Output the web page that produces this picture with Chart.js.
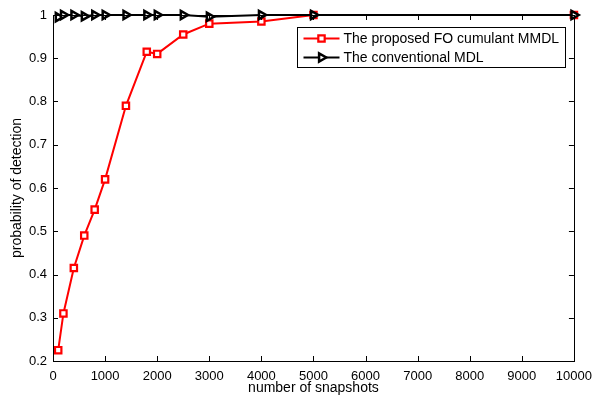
<!DOCTYPE html>
<html>
<head>
<meta charset="utf-8">
<script src="https://cdn.jsdelivr.net/npm/chart.js@4.4.0/dist/chart.umd.min.js"></script>
<style>
  html, body { margin: 0; padding: 0; background: #fff; }
  canvas { display: block; }
</style>
</head>
<body>
<canvas id="myChart" width="595" height="397"></canvas>
<script>
// data
const snapshots = [100, 200, 400, 600, 800, 1000, 1400, 1800, 2000, 2500, 3000, 4000, 5000, 10000];
const mmdlPd = [0.225, 0.31, 0.415, 0.49, 0.55, 0.62, 0.79, 0.915, 0.91, 0.955, 0.98, 0.985, 1, 1];
const mdlPd = [0.995, 1, 1, 0.997, 1, 1, 1, 1, 1, 1, 0.996, 1, 1, 1];
const seriesNames = ['The proposed FO cumulant MMDL', 'The conventional MDL'];
const xTitle = 'number of snapshots';
const yTitle = 'probability of detection';

const FONT = 'Liberation Sans, Arial, Helvetica, sans-serif';

function pts(xs, ys) {
    return xs.map((x, i) => ({x: x, y: ys[i]}));
}

// matlab style box with inward ticks
const boxTicks = {
    id: 'boxTicks',
    afterDraw(chart) {
        const ctx = chart.ctx;
        const a = chart.chartArea;
        const xs = chart.scales.x, ys = chart.scales.y;
        const len = 5;
        ctx.save();
        ctx.strokeStyle = '#000';
        ctx.lineWidth = 1;
        ctx.beginPath();
        xs.ticks.forEach(t => {
            const p = Math.round(xs.getPixelForValue(t.value)) + 0.5;
            ctx.moveTo(p, a.bottom); ctx.lineTo(p, a.bottom - len);
            ctx.moveTo(p, a.top); ctx.lineTo(p, a.top + len);
        });
        ys.ticks.forEach(t => {
            const p = Math.round(ys.getPixelForValue(t.value)) + 0.5;
            ctx.moveTo(a.left, p); ctx.lineTo(a.left + len, p);
            ctx.moveTo(a.right, p); ctx.lineTo(a.right - len, p);
        });
        ctx.stroke();
        ctx.strokeRect(Math.round(a.left) + 0.5, Math.round(a.top) + 0.5,
            Math.round(a.right - a.left), Math.round(a.bottom - a.top));
        ctx.restore();
    }
};

// legend inside the axes, top right
const insideLegend = {
    id: 'insideLegend',
    afterDraw(chart) {
        const ctx = chart.ctx;
        const a = chart.chartArea;
        ctx.save();
        ctx.font = '14px ' + FONT;
        const w = Math.round(Math.max(...seriesNames.map(s => ctx.measureText(s).width)) + 52);
        const h = 40;
        const x0 = Math.round(a.right - 9 - w) + 0.5;
        const y0 = Math.round(a.top + 12) + 0.5;
        ctx.fillStyle = '#fff';
        ctx.fillRect(x0, y0, w, h);
        ctx.strokeStyle = '#000';
        ctx.lineWidth = 1;
        ctx.strokeRect(x0, y0, w, h);
        chart.data.datasets.forEach((ds, i) => {
            const cy = y0 + 11 + i * 19;
            ctx.strokeStyle = ds.borderColor;
            ctx.lineWidth = ds.borderWidth;
            ctx.beginPath();
            ctx.moveTo(x0 + 6, cy);
            ctx.lineTo(x0 + 42, cy);
            ctx.stroke();
            ctx.fillStyle = ds.pointBackgroundColor;
            ctx.strokeStyle = ds.pointBorderColor;
            ctx.lineWidth = ds.pointBorderWidth;
            Chart.helpers.drawPoint(ctx, {
                pointStyle: ds.pointStyle,
                rotation: ds.pointRotation || 0,
                radius: ds.pointRadius,
                borderWidth: ds.pointBorderWidth
            }, x0 + 24, cy);
            ctx.fillStyle = '#000';
            ctx.textBaseline = 'middle';
            ctx.fillText(ds.label, x0 + 46, cy + 1);
        });
        ctx.restore();
    }
};

const ctx = document.getElementById('myChart').getContext('2d');
const chart = new Chart(ctx, {
    type: 'line',
    data: {
        datasets: [{
            label: seriesNames[0],
            data: pts(snapshots, mmdlPd),
            borderColor: '#ff0000',
            borderWidth: 2,
            pointStyle: 'rect',
            pointRadius: 4.5,
            pointBorderWidth: 2.2,
            pointBorderColor: '#ff0000',
            pointBackgroundColor: '#ffffff',
            tension: 0,
            clip: false,
            order: 1
        }, {
            label: seriesNames[1],
            data: pts(snapshots, mdlPd),
            borderColor: '#000000',
            borderWidth: 2,
            pointStyle: 'triangle',
            pointRotation: 90,
            pointRadius: 4.8,
            pointBorderWidth: 2.5,
            pointBorderColor: '#000000',
            pointBackgroundColor: '#ffffff',
            tension: 0,
            clip: false,
            order: 0
        }]
    },
    options: {
        responsive: false,
        animation: false,
        layout: { padding: { left: 0, right: 21, top: 15, bottom: 0 } },
        plugins: {
            legend: { display: false },
            tooltip: { enabled: false }
        },
        scales: {
            x: {
                type: 'linear',
                min: 0,
                max: 10000,
                grid: { display: false, tickLength: 5 },
                border: { display: false },
                ticks: {
                    stepSize: 1000,
                    color: '#000',
                    font: { family: FONT, size: 13 },
                    padding: 3,
                    maxRotation: 0,
                    callback: v => String(v)
                },
                title: {
                    display: true,
                    text: xTitle,
                    color: '#000',
                    font: { family: FONT, size: 14 },
                    padding: { top: 0, bottom: 0 }
                },
                afterFit(s) { s.height = 36; }
            },
            y: {
                min: 0.2,
                max: 1,
                grid: { display: false, drawTicks: false },
                border: { display: false },
                ticks: {
                    stepSize: 0.1,
                    color: '#000',
                    font: { family: FONT, size: 13 },
                    padding: 6,
                    callback: v => String(Math.round(v * 10) / 10)
                },
                title: {
                    display: true,
                    text: yTitle,
                    color: '#000',
                    font: { family: FONT, size: 14 },
                    padding: { top: 9, bottom: 0 }
                },
                afterFit(s) { s.width = 53; }
            }
        }
    },
    plugins: [boxTicks, insideLegend]
});
</script>
</body>
</html>
